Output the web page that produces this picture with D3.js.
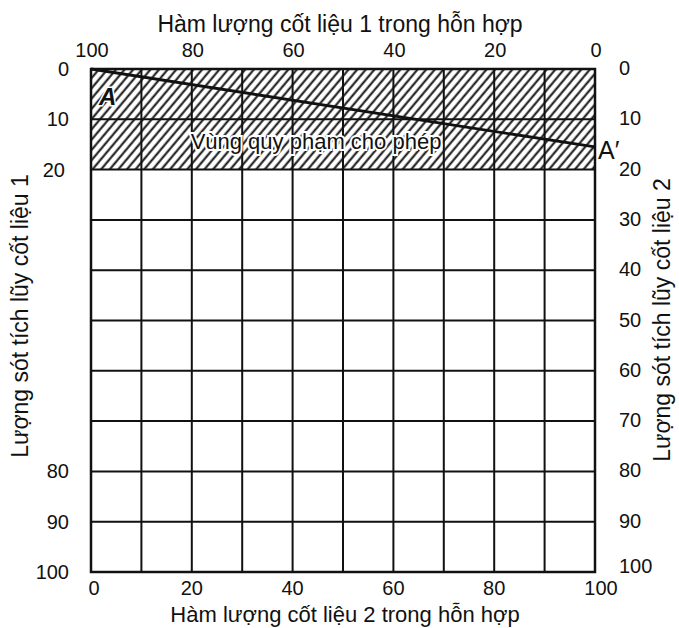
<!DOCTYPE html>
<html><head><meta charset="utf-8">
<script src="https://cdn.jsdelivr.net/npm/d3@7"></script>
<style>body{margin:0;background:#fff}text{font-family:"Liberation Sans",Arial,sans-serif;fill:#111}</style>
</head><body>
<svg id="c" width="679" height="628"></svg>
<script>
const topTicks = [100, 80, 60, 40, 20, 0];
const bottomTicks = [0, 20, 40, 60, 80, 100];
const leftTicks = [0, 10, 20, 80, 90, 100];
const rightTicks = [0, 10, 20, 30, 40, 50, 60, 70, 80, 90, 100];
const gridSteps = [0, 10, 20, 30, 40, 50, 60, 70, 80, 90, 100];
const allowedZone = [0, 20];
const lineAA = [{x: 0, y: 0}, {x: 100, y: 15.5}];
const titles = {
  top: "Hàm lượng cốt liệu 1 trong hỗn hợp",
  bottom: "Hàm lượng cốt liệu 2 trong hỗn hợp",
  left: "Lượng sót tích lũy cốt liệu 1",
  right: "Lượng sót tích lũy cốt liệu 2",
  zone: "Vùng quy phạm cho phép"
};

const svg = d3.select("#c");
const L = 91, R = 595, T = 69, B = 572;
const x = d3.scaleLinear().domain([0, 100]).range([L, R]);
const x1 = d3.scaleLinear().domain([100, 0]).range([L, R]);
const y = d3.scaleLinear().domain([0, 100]).range([T, B]);

// hatch pattern
const defs = svg.append("defs");
const pat = defs.append("pattern").attr("id", "hatch").attr("patternUnits", "userSpaceOnUse")
  .attr("width", 6.6).attr("height", 10).attr("patternTransform", "rotate(40)");
pat.append("line").attr("x1", 1.5).attr("y1", 0).attr("x2", 1.5).attr("y2", 10)
  .attr("stroke", "#111").attr("stroke-width", 2);

svg.append("rect").attr("x", x(0)).attr("y", y(allowedZone[0]))
  .attr("width", x(100) - x(0)).attr("height", y(allowedZone[1]) - y(allowedZone[0]))
  .attr("fill", "url(#hatch)");

// grid
const g = svg.append("g").attr("stroke", "#111").attr("stroke-width", 2);
g.selectAll("line.v").data(gridSteps).join("line").attr("class", "v")
  .attr("x1", d => x(d)).attr("x2", d => x(d)).attr("y1", y(0)).attr("y2", y(100));
g.selectAll("line.h").data(gridSteps).join("line").attr("class", "h")
  .attr("y1", d => y(d)).attr("y2", d => y(d)).attr("x1", x(0)).attr("x2", x(100));
svg.append("rect").attr("x", x(0)).attr("y", y(0)).attr("width", x(100) - x(0))
  .attr("height", y(100) - y(0)).attr("fill", "none").attr("stroke", "#111").attr("stroke-width", 2.5);

// A - A' line
svg.append("path").datum(lineAA)
  .attr("d", d3.line().x(d => x(d.x)).y(d => y(d.y)))
  .attr("stroke", "#111").attr("stroke-width", 2.8).attr("fill", "none");

// zone label
svg.append("text").attr("x", 316).attr("y", y(16)).attr("text-anchor", "middle")
  .attr("font-size", 22).attr("stroke", "#fff").attr("stroke-width", 4)
  .attr("paint-order", "stroke").text(titles.zone);
svg.append("text").attr("x", 99).attr("y", 105).attr("font-size", 24).attr("font-weight", "bold")
  .attr("font-style", "italic").attr("stroke", "#fff").attr("stroke-width", 3)
  .attr("paint-order", "stroke").text("A");
svg.append("text").attr("x", 598).attr("y", 159).attr("font-size", 25).text("A′");

const fs = 20;
// top axis
svg.append("g").selectAll("text").data(topTicks).join("text")
  .attr("x", d => x1(d) + 1).attr("y", 57).attr("text-anchor", "middle").attr("font-size", fs).text(d => d);
// bottom axis
svg.append("g").selectAll("text").data(bottomTicks).join("text")
  .attr("x", d => x(d) + (d === 0 ? 3 : d === 100 ? 6 : 0)).attr("y", 595).attr("text-anchor", "middle").attr("font-size", fs).text(d => d);
// left axis
svg.append("g").selectAll("text").data(leftTicks).join("text")
  .attr("x", d => d === 20 ? 65 : 69).attr("y", d => y(d) + 7).attr("text-anchor", "end").attr("font-size", fs).text(d => d);
// right axis
svg.append("g").selectAll("text").data(rightTicks).join("text")
  .attr("x", 619).attr("y", d => y(d) + (d === 100 ? 1 : 6)).attr("text-anchor", "start").attr("font-size", fs).text(d => d);

// titles
svg.append("text").attr("x", 340).attr("y", 32).attr("text-anchor", "middle").attr("font-size", 23).text(titles.top);
svg.append("text").attr("x", 345).attr("y", 622).attr("text-anchor", "middle").attr("font-size", 22).text(titles.bottom);
svg.append("text").attr("transform", "translate(28,316) rotate(-90)").attr("text-anchor", "middle").attr("font-size", 23).text(titles.left);
svg.append("text").attr("transform", "translate(670,320) rotate(-90)").attr("text-anchor", "middle").attr("font-size", 23).text(titles.right);
</script>
</body></html>
